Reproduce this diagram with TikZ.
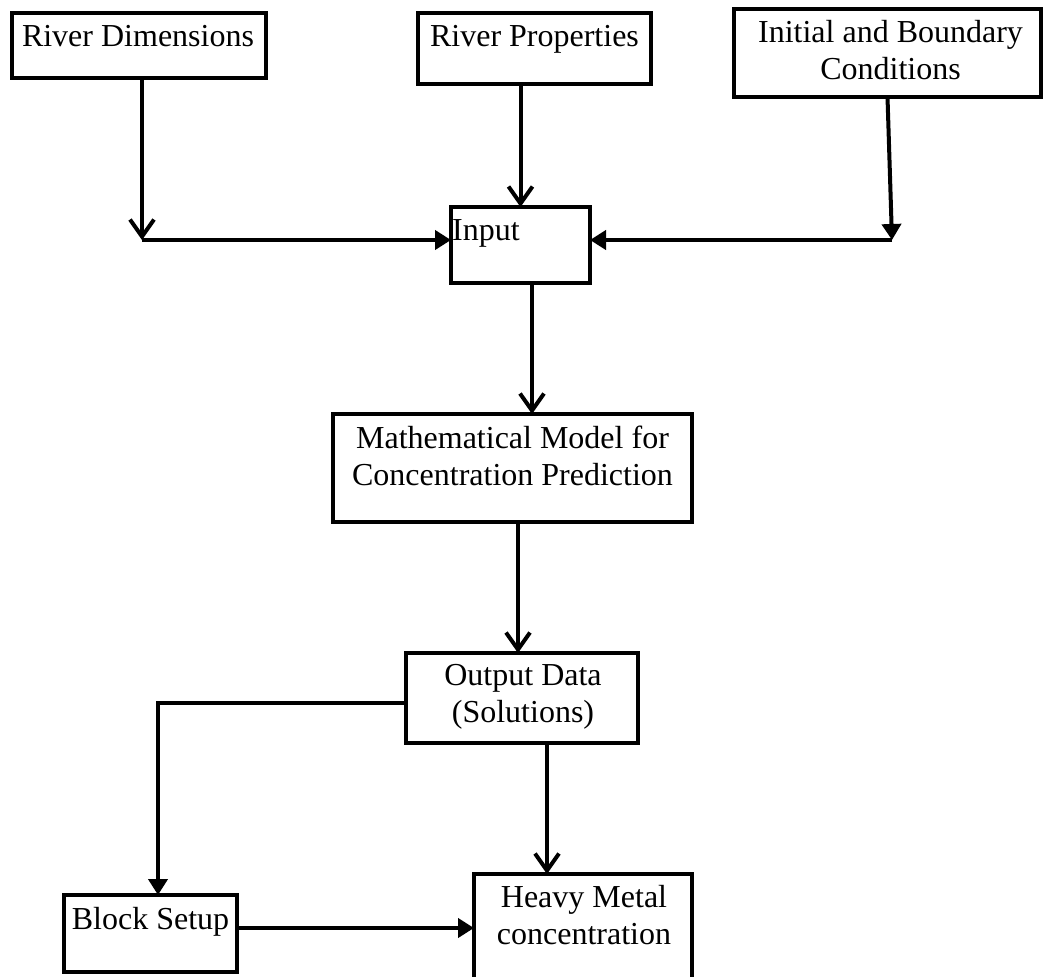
\documentclass[tikz,border=0pt]{standalone}
\usepackage{fontspec}
\setmainfont{Liberation Serif}
\usetikzlibrary{arrows.meta}
\begin{document}
\begin{tikzpicture}[x=1pt,y=-1pt,
  box/.style={draw, line width=4pt, rectangle, inner sep=0pt, outer sep=0pt, anchor=north west},
  txt/.style={inner sep=0pt, anchor=north, align=center, font=\fontsize{32}{37}\selectfont},
  conn/.style={line width=4pt},
  barb/.style={conn, -{Straight Barb[length=17pt,width=24pt,line width=4pt]}},
  tri/.style={conn, -{Triangle[length=16pt,width=19pt]}}]
\fill[white] (0,0) rectangle (1044,977);
\useasboundingbox (0,0) rectangle (1044,977);
% boxes
\node[box, minimum width=254pt, minimum height=65pt]  (rd)  at (12,13) {};
\node[box, minimum width=233pt, minimum height=71pt]  (rp)  at (418,13) {};
\node[box, minimum width=307pt, minimum height=88pt]  (ibc) at (734,9) {};
\node[box, minimum width=139pt, minimum height=76pt]  (in)  at (451,207) {};
\node[box, minimum width=359pt, minimum height=108pt] (mm)  at (333,414) {};
\node[box, minimum width=232pt, minimum height=90pt]  (od)  at (406,653) {};
\node[box, minimum width=173pt, minimum height=77pt]  (bs)  at (64,895) {};
\node[box, minimum width=218pt, minimum height=140pt] (hm)  at (474,874) {};
% texts
\node[txt] (rdt)  at ([xshift=-1pt,yshift=-12pt]rd.north) {River Dimensions};
\node[txt] (rpt)  at ([yshift=-12pt]rp.north) {River Properties};
\node[txt] (ibct) at ([xshift=3pt,yshift=-11pt]ibc.north) {Initial and Boundary\\Conditions};
\node[txt, anchor=north west] (int) at ([xshift=1pt,yshift=-12pt]in.north west) {Input};
\node[txt] (mmt)  at ([yshift=-11.5pt]mm.north) {Mathematical Model for\\Concentration Prediction};
\node[txt] (odt)  at ([xshift=1pt,yshift=-11.5pt]od.north) {Output Data\\(Solutions)};
\node[txt] (bst)  at ([yshift=-12pt]bs.north) {Block Setup};
\node[txt] (hmt)  at ([xshift=1pt,yshift=-11.5pt]hm.north) {Heavy Metal\\concentration};
% connectors
\coordinate (jl) at (142,240);
\coordinate (jr) at (892,240);
\draw[barb] (rd.south -| jl) -- (jl);
\draw[tri] (jl) -- (in.west |- jl);
\draw[barb] (rp.south -| in.north) -- (in.north);
\draw[tri] (ibc.south) -- (jr);
\draw[tri] (jr) -- (in.east |- jr);
\draw[barb] ([xshift=11.5pt]in.south) -- ([xshift=11.5pt]in.south |- mm.north);
\draw[barb] ([xshift=-4pt]od.north |- mm.south) -- ([xshift=-4pt]od.north);
\draw[barb] ([xshift=25pt]od.south) -- ([xshift=25pt]od.south |- hm.north);
\draw[tri] ([yshift=-5pt]od.west) -| ([xshift=7.5pt]bs.north);
\draw[tri] ([yshift=5.5pt]bs.east) -- ([yshift=5.5pt]bs.east -| hm.west);
\end{tikzpicture}
\end{document}
